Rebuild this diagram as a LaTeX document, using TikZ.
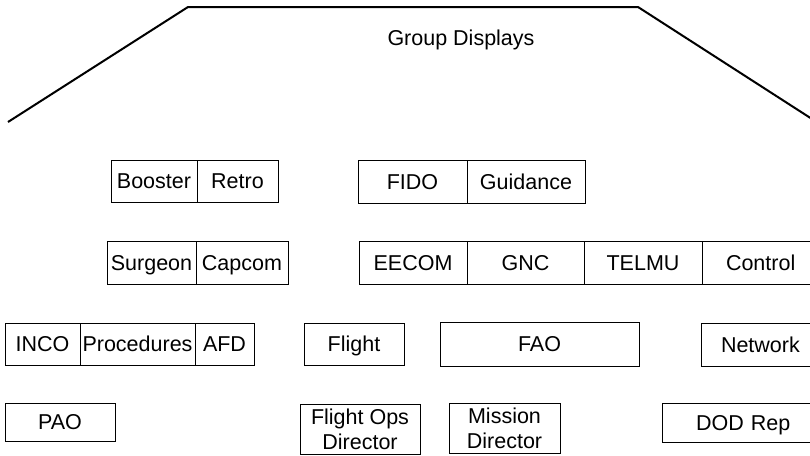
\documentclass[tikz,border=0pt]{standalone}
\usepackage{fontspec}
\setmainfont{Liberation Sans}
\usetikzlibrary{positioning}
\begin{document}
\begin{tikzpicture}[x=1pt, y=-1pt, node distance=0pt,
  box/.style={draw, line width=0.9pt, outer sep=0pt, inner sep=0pt, minimum height=42pt, align=center, font=\fontsize{21.5}{25}\selectfont},
  cell/.style={box, text height=15.4pt, text depth=0pt}]
\clip (0,0) rectangle (810,455);
\draw[line width=2pt] (8,122) -- (188,7) -- (638,7) -- (812,119);
\node[anchor=base, font=\fontsize{21.5}{25}\selectfont] (title) at (461,45) {Group Displays};
\node[cell, minimum width=86pt, anchor=north west] (booster) at (111,160) {Booster};
\node[cell, minimum width=81pt, right=of booster] (retro) {Retro};
\node[cell, minimum width=109pt, minimum height=43pt, anchor=north west] (fido) at (358,160) {FIDO};
\node[cell, minimum width=118pt, minimum height=43pt, right=of fido] (guidance) {Guidance};
\node[cell, minimum width=89pt, minimum height=43pt, anchor=north west] (surgeon) at (107,241) {Surgeon};
\node[cell, minimum width=92pt, minimum height=43pt, right=of surgeon] (capcom) {Capcom};
\node[cell, minimum width=108pt, minimum height=43pt, anchor=north west] (eecom) at (359,241) {EECOM};
\node[cell, minimum width=117pt, minimum height=43pt, right=of eecom] (gnc) {GNC};
\node[cell, minimum width=118pt, minimum height=43pt, right=of gnc] (telmu) {TELMU};
\node[cell, minimum width=118pt, minimum height=43pt, right=of telmu, text width=106pt, align=left] (control) {\hspace*{18pt}Control};
\node[cell, minimum width=75pt, anchor=north west] (inco) at (5,323) {INCO};
\node[cell, minimum width=115pt, right=of inco] (procedures) {Procedures};
\node[cell, minimum width=59pt, right=of procedures] (afd) {AFD};
\node[cell, minimum width=100pt, anchor=north west] (flight) at (304,323) {Flight};
\node[cell, minimum width=199pt, minimum height=44pt, anchor=north west] (fao) at (440,322) {FAO};
\node[cell, minimum width=118pt, minimum height=43pt, anchor=north west, text width=106pt, align=left] (network) at (701,323) {\hspace*{14pt}Network};
\node[cell, minimum width=110pt, minimum height=38pt, anchor=north west] (pao) at (5,403) {PAO};
\node[box, minimum width=120pt, minimum height=50pt, anchor=north west] (flightops) at (300,404) {Flight Ops\\Director};
\node[box, minimum width=111pt, minimum height=50pt, anchor=north west] (mission) at (449,403) {Mission\\Director};
\node[cell, minimum width=155pt, minimum height=39pt, anchor=north west, text width=143pt, align=left] (dodrep) at (662,403) {\hspace*{28pt}DOD Rep};
\end{tikzpicture}
\end{document}
